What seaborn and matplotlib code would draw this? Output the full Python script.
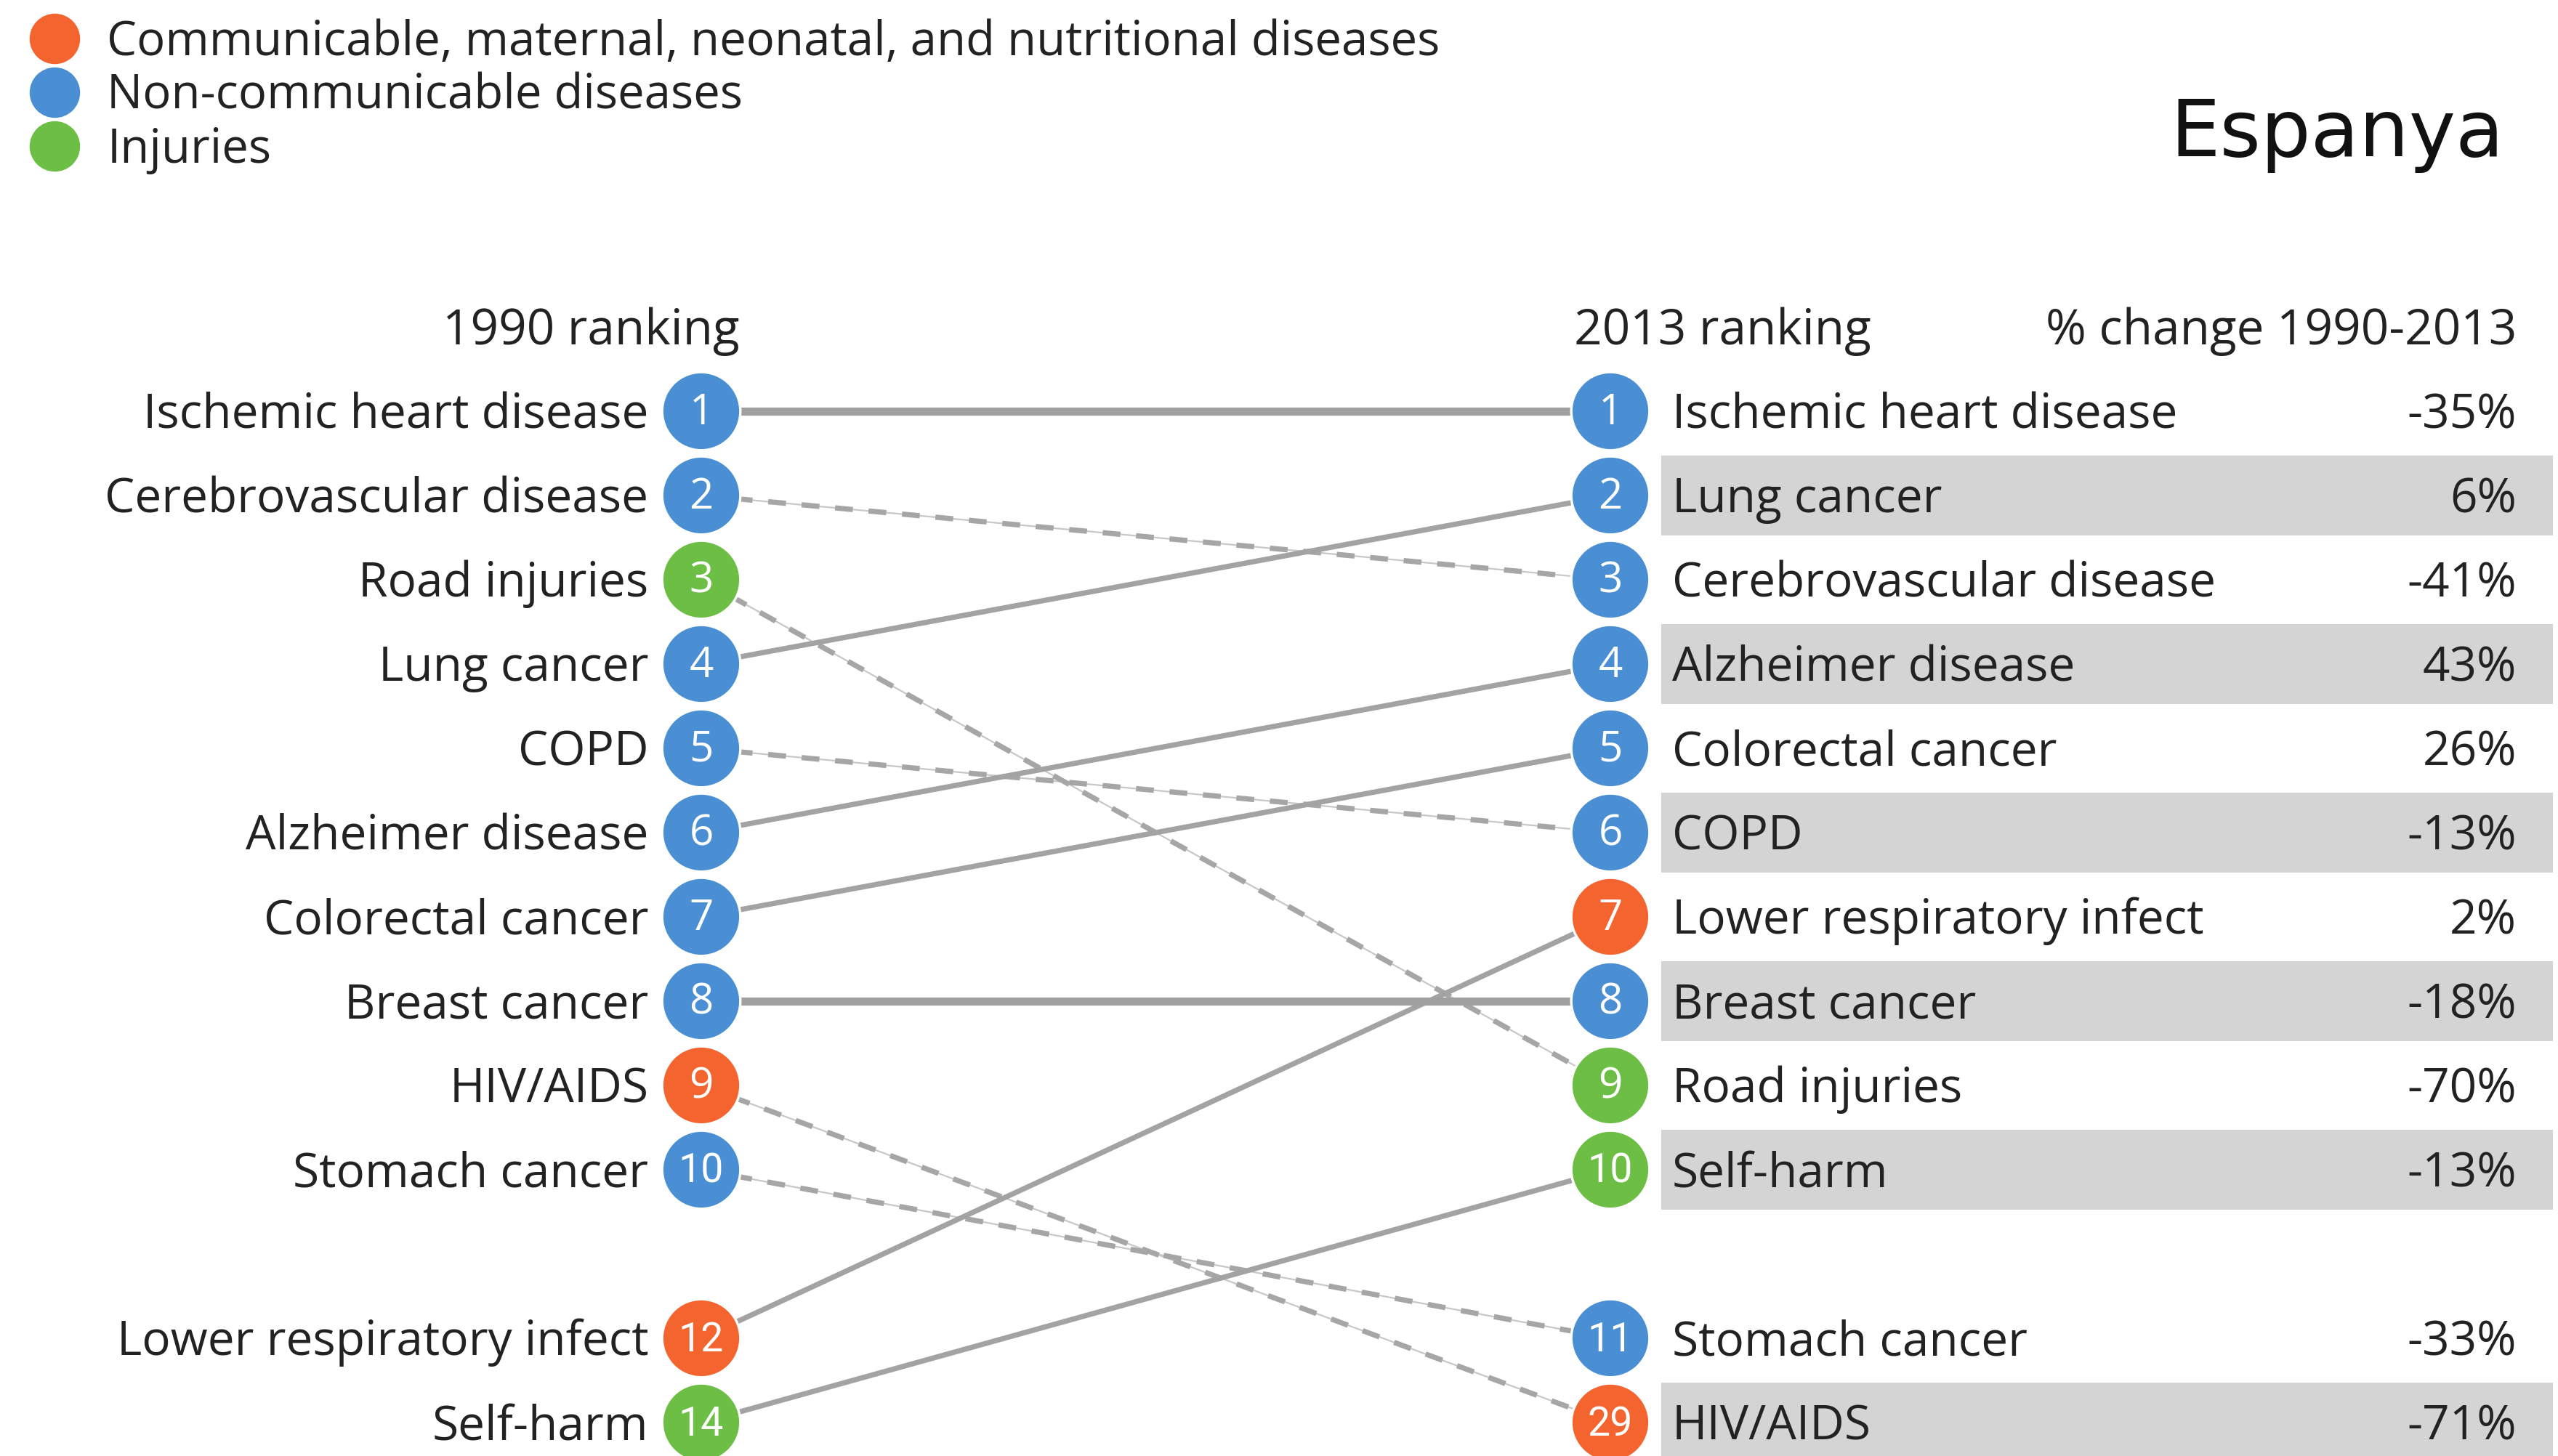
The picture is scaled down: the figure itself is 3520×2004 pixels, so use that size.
import numpy as np
import pandas as pd
import matplotlib
matplotlib.use("Agg")
import matplotlib.pyplot as plt
from matplotlib.lines import Line2D
import seaborn as sns

# ---- data ---------------------------------------------------------------
causes = ["Ischemic heart disease", "Cerebrovascular disease", "Road injuries",
          "Lung cancer", "COPD", "Alzheimer disease", "Colorectal cancer",
          "Breast cancer", "HIV/AIDS", "Stomach cancer",
          "Lower respiratory infect", "Self-harm"]
rank_1990 = [1, 2, 3, 4, 5, 6, 7, 8, 9, 10, 12, 14]
rank_2013 = [1, 3, 9, 2, 6, 4, 5, 8, 29, 11, 7, 10]
groups = ["ncd", "ncd", "inj", "ncd", "ncd", "ncd", "ncd", "ncd",
          "comm", "ncd", "comm", "inj"]
pct_change = [-35, -41, -70, 6, -13, 43, 26, -18, -71, -33, 2, -13]

group_labels = {"comm": "Communicable, maternal, neonatal, and nutritional diseases",
                "ncd": "Non-communicable diseases",
                "inj": "Injuries"}
group_colors = {"comm": "#F4642F", "ncd": "#4A8FD3", "inj": "#6DBE45"}
country = "Espanya"
top_n = 10


def slot(ranks):
    """Row slot per rank: top ranks in order, the rest after a blank row."""
    order = np.argsort(ranks, kind="stable")
    pos = np.empty(len(ranks))
    extra = 0
    for i in order:
        if ranks[i] <= top_n:
            pos[i] = ranks[i] - 1
        else:
            pos[i] = top_n + 1 + extra
            extra += 1
    return pos


df = pd.DataFrame({"cause": causes, "r1990": rank_1990, "r2013": rank_2013,
                   "group": groups, "pct": pct_change})
df["y1990"] = slot(rank_1990)
df["y2013"] = slot(rank_2013)
df["trend"] = np.where(df.r2013 > df.r1990, "down",
                       np.where(df.r2013 < df.r1990, "up", "same"))

# ---- figure -------------------------------------------------------------
sns.set_theme(style="white")
plt.rcParams["font.family"] = ["Open Sans", "DejaVu Sans"]
W, H, DPI = 3520, 2004, 200
fig = plt.figure(figsize=(W / DPI, H / DPI), dpi=DPI)
ax = fig.add_axes([0, 0, 1, 1])
ax.set_xlim(-0.7714, 2.0424)
ax.set_ylim(12.397, -4.879)
ax.axis("off")

txt = "#222222"
fs = 23.7
fs_head = 24.3

# alternating grey bands behind the 2013 list
right_sorted = df.sort_values("y2013").reset_index(drop=True)
for i, row in right_sorted.iterrows():
    if i % 2 == 1:
        ax.fill_between([1.056, 2.037], row.y2013 - 0.475, row.y2013 + 0.475,
                        color="#D4D4D4", lw=0, zorder=0)

# connecting lines
long = pd.concat([
    df[["cause", "trend"]].assign(x=0.0, y=df.y1990),
    df[["cause", "trend"]].assign(x=1.0, y=df.y2013),
])
# faint hairline under the dashed connectors
sns.lineplot(data=long[long.trend == "down"], x="x", y="y", units="cause",
             estimator=None, color="#C8C8C8", lw=0.8, ax=ax, zorder=1,
             legend=False)
sns.lineplot(data=long[long.trend == "down"], x="x", y="y", units="cause",
             estimator=None, color="#A6A6A6", lw=2.6, ax=ax, zorder=2,
             legend=False, dashes=False, linestyle=(0, (3.4, 3.0)))
sns.lineplot(data=long[long.trend == "up"], x="x", y="y", units="cause",
             estimator=None, color="#A3A3A3", lw=2.6, ax=ax, zorder=2,
             legend=False)
sns.lineplot(data=long[long.trend == "same"], x="x", y="y", units="cause",
             estimator=None, color="#A0A0A0", lw=4.0, ax=ax, zorder=2,
             legend=False)

# rank circles
pts = pd.concat([
    df.assign(x=0.0, y=df.y1990, rank=df.r1990),
    df.assign(x=1.0, y=df.y2013, rank=df.r2013),
])
sns.scatterplot(data=pts, x="x", y="y", hue="group", palette=group_colors,
                s=1500, edgecolor="white", linewidth=1.2, ax=ax, zorder=3,
                legend=False)
for _, p in pts.iterrows():
    label = str(p["rank"])
    if len(label) == 1:
        ax.text(p.x, p.y + 0.02, label, color="white", ha="center",
                va="center", fontsize=21, zorder=4)
    else:
        ax.text(p.x, p.y + 0.02, label, color="white", ha="center",
                va="center", fontsize=20, zorder=4,
                family=["Liberation Sans Narrow", "Roboto", "DejaVu Sans"])

# cause names and percentage change
for _, r in df.iterrows():
    ax.text(-0.058, r.y1990 + 0.2, r.cause, ha="right", va="baseline",
            fontsize=fs, color=txt)
    ax.text(1.068, r.y2013 + 0.2, r.cause, ha="left", va="baseline",
            fontsize=fs, color=txt)
    ax.text(1.997, r.y2013 + 0.2, f"{r.pct}%", ha="right", va="baseline",
            fontsize=fs, color=txt)

# column headings
ax.text(0.042, -0.79, "1990 ranking", ha="right", va="baseline",
        fontsize=fs_head, color=txt)
ax.text(0.960, -0.79, "2013 ranking", ha="left", va="baseline",
        fontsize=fs_head, color=txt)
ax.text(1.997, -0.79, "% change 1990-2013", ha="right", va="baseline",
        fontsize=fs_head, color=txt)

# country title
fig.text(0.979, 1 - 215 / H, country, ha="right", va="baseline",
         fontsize=39, color="#111111", family=["DejaVu Sans"])

# group legend
handles = [Line2D([], [], marker="o", ls="", markersize=25,
                  markerfacecolor=group_colors[g], markeredgecolor="none")
           for g in group_labels]
ax.legend(handles, list(group_labels.values()), loc="upper left",
          bbox_to_anchor=(0.014, 0.987), bbox_transform=fig.transFigure,
          frameon=False, fontsize=23.5, handlelength=0.8, handletextpad=0.7,
          labelspacing=0.12, borderpad=0, borderaxespad=0,
          labelcolor=txt)

fig.savefig("out.png", dpi=DPI, facecolor="white")
